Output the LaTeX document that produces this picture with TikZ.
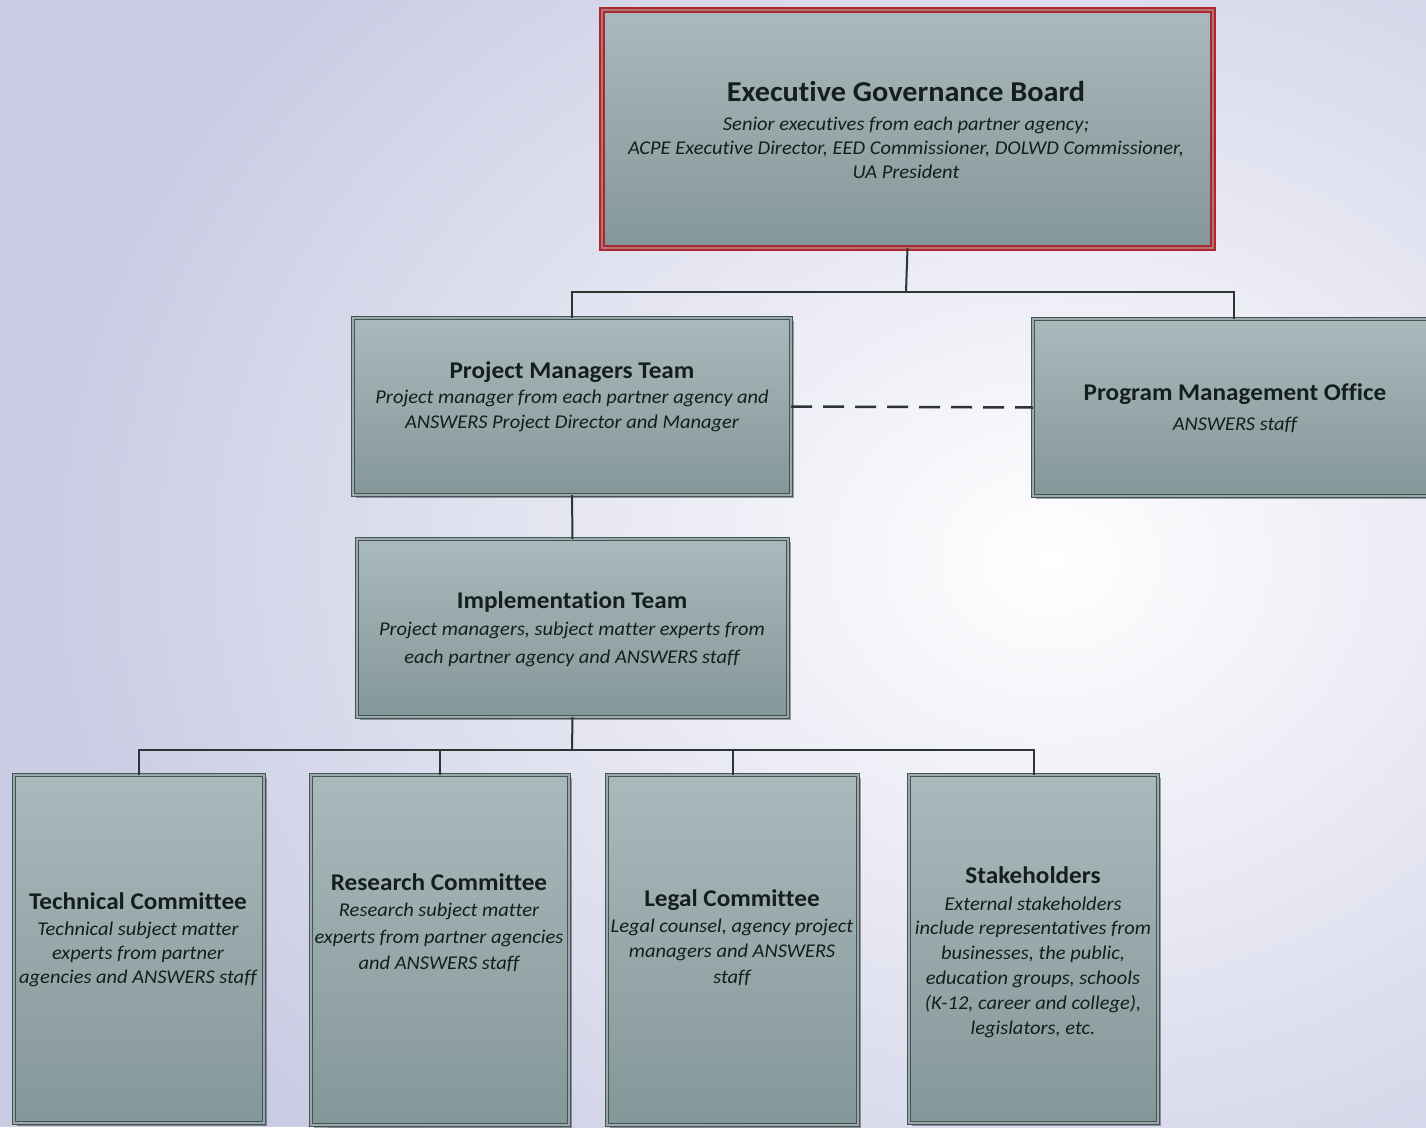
\documentclass[tikz,border=0pt]{standalone}
\usepackage{fontspec}
\setmainfont{Carlito}[FakeStretch=1.05, Ligatures=NoCommon]
\usetikzlibrary{shadows}
\definecolor{bglav}{HTML}{CACCE4}
\definecolor{boxtop}{HTML}{AAB9BC}
\definecolor{boxbot}{HTML}{849798}
\definecolor{boxline}{HTML}{445353}
\definecolor{boxgap}{HTML}{9AAAAC}
\definecolor{redline}{HTML}{B0262A}
\definecolor{txt}{HTML}{151D1D}
\definecolor{conn}{HTML}{2C3434}
\newcommand\orgtext[8]{%
  \node[ttl, font=\fontsize{#8}{#8}\selectfont\bfseries] (#1-t) at (#2,#3) {#4};
  \foreach \ln [count=\i] in {#7} {
    \node[subtxt] (#1-\i) at (#2, {#5+(\i-1)*#6}) {\ln};
  }}
\begin{document}
\begin{tikzpicture}[x=1pt,y=-1pt,
  orgbox/.style={rectangle, inner sep=0pt, outer sep=0pt, anchor=north west,
    draw=boxline, line width=1.1pt, double=boxgap, double distance=1.8pt,
    top color=boxtop, bottom color=boxbot,
    drop shadow={shadow xshift=3pt, shadow yshift=-3pt, fill=black, opacity=0.35}},
  redbox/.style={orgbox, draw=redline, line width=1.7pt, double=redline!45!boxtop, double distance=2pt},
  ttl/.style={anchor=base, inner sep=0pt, text=txt},
  subtxt/.style={anchor=base, inner sep=0pt, text=txt, font=\fontsize{19.5}{24}\selectfont\itshape},
  connector/.style={draw=conn, line width=2pt},
  dashconn/.style={draw=conn, line width=2.5pt, dash pattern=on 21pt off 11pt}]
\clip (0,0) rectangle (1426,1127);
\fill[bglav] (0,0) rectangle (1426,1127);
\shade[inner color=white, outer color=bglav] (1050,560) ellipse (1000 and 820);

% boxes
\node[redbox, minimum width=611pt, minimum height=238pt] (exec) at (602,10) {};
\node[orgbox, minimum width=438pt, minimum height=177pt] (pmt) at (353,318) {};
\node[orgbox, minimum width=402pt, minimum height=177pt] (pmo) at (1033,319) {};
\node[orgbox, minimum width=431pt, minimum height=178pt] (impl) at (357,539) {};
\node[orgbox, minimum width=250pt, minimum height=348pt] (tech) at (14,775) {};
\node[orgbox, minimum width=258pt, minimum height=350pt] (research) at (311,775) {};
\node[orgbox, minimum width=251pt, minimum height=350pt] (legal) at (607,775) {};
\node[orgbox, minimum width=249pt, minimum height=348pt] (stake) at (909,775) {};

% connectors
\coordinate (j1) at (906,292);
\coordinate (j2) at (572,750);
\draw[connector] (exec.south) -- (j1);
\draw[connector] (pmt.north) -- (pmt.north |- j1) -- (pmo.north |- j1) -- (pmo.north);
\draw[connector] (pmt.south) -- (impl.north);
\draw[connector] (impl.south) -- (j2);
\draw[connector] (tech.north) -- (tech.north |- j2) -- (stake.north |- j2) -- (stake.north);
\draw[connector] (research.north) -- (research.north |- j2);
\draw[connector] (legal.north) -- (legal.north |- j2);
\draw[dashconn] (pmt.east) -- (pmo.west);

% texts
\orgtext{exec}{906}{101}{Executive Governance Board}{130}{24.3}{Senior executives from each partner agency;,{ACPE Executive Director, EED Commissioner, DOLWD Commissioner,},UA President}{28.8}
\orgtext{pmt}{572}{378}{Project Managers Team}{403.5}{24.5}{Project manager from each partner agency and,ANSWERS Project Director and Manager}{24}
\orgtext{pmo}{1235}{400}{Program Management Office}{430}{24.5}{ANSWERS staff}{24}
\orgtext{impl}{572}{608}{Implementation Team}{635}{28}{{Project managers, subject matter experts from},each partner agency and ANSWERS staff}{24}
\orgtext{tech}{138}{909}{Technical Committee}{935.5}{24}{Technical subject matter,experts from partner,agencies and ANSWERS staff}{24}
\orgtext{research}{439}{890.5}{Research Committee}{916.5}{26.5}{Research subject matter,experts from partner agencies,and ANSWERS staff}{24}
\orgtext{legal}{732}{906.5}{Legal Committee}{932}{25.5}{{Legal counsel, agency project},managers and ANSWERS,staff}{24}
\orgtext{stake}{1033}{883}{Stakeholders}{910}{24.8}{External stakeholders,include representatives from,{businesses, the public,},{education groups, schools},{(K-12, career and college),},{legislators, etc.}}{24}
\end{tikzpicture}
\end{document}
